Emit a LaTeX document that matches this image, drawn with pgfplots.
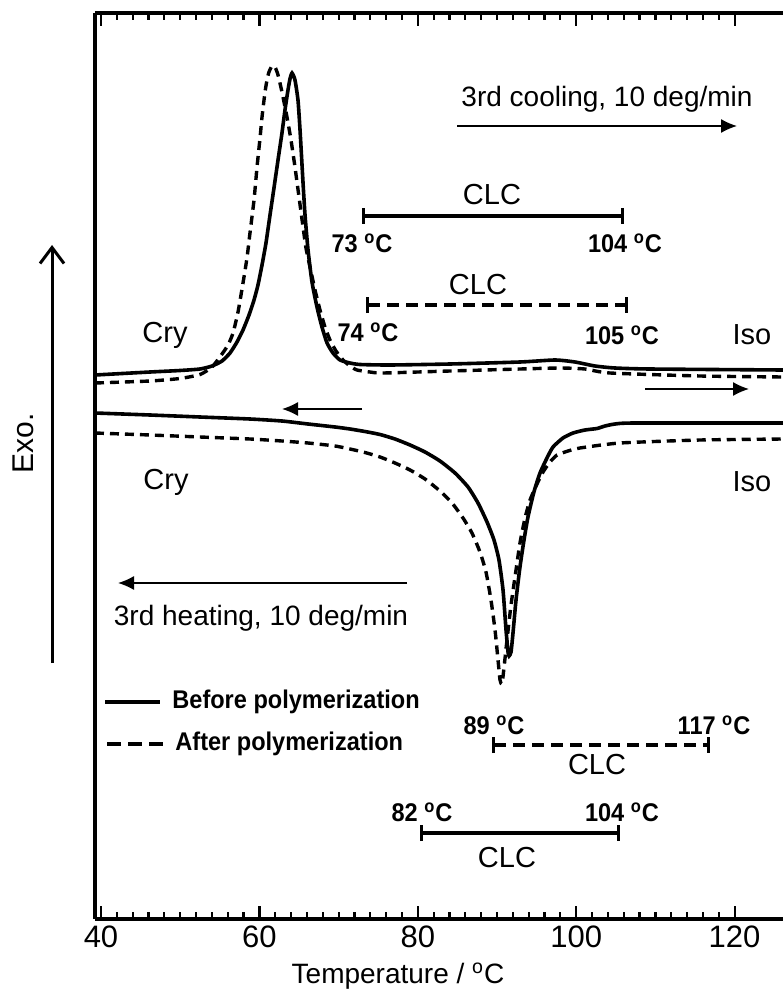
\documentclass[border=0pt]{standalone}
\usepackage{fontspec}
\setmainfont{Liberation Sans}
\newfontfamily\nb[FakeStretch=0.92]{Liberation Sans Bold}
\usepackage{pgfplots}
\pgfplotsset{compat=1.18}
\usetikzlibrary{arrows.meta}
\newcommand{\px}[1]{40+(#1-101)/7.92}
\newcommand{\dg}{\textsuperscript{o}C}
\begin{document}
\begin{tikzpicture}
\begin{axis}[
 scale only axis, width=344pt, height=453pt,
 xmin=39.24, xmax=126.11, ymin=13, ymax=919, y dir=reverse,
 axis x line*=box, axis y line*=left,
 axis line style={line width=1.6pt},
 xtick={40,60,80,100,120}, minor x tick num=9, ytick=\empty,
 tick align=inside, xtick pos=both, xticklabel pos=lower,
 major tick length=6.5pt, minor tick length=3.5pt,
 every tick/.style={black, line width=1.1pt},
 every minor tick/.style={black, line width=1.1pt},
 ticklabel style={font=\fontsize{15.5}{15.5}\selectfont},
 /pgf/number format/assume math mode=true,
 clip=false,
]
% cooling, before polymerization
\addplot[black, line width=1.8pt, smooth, tension=0.35] coordinates {
(39.24,375) (46.19,372) (49.97,370.5) (52.50,369) (54.02,366) (55.28,361) (56.29,353)
(57.17,342) (57.93,330) (58.69,315) (59.32,300) (59.82,285) (60.33,265) (60.83,243)
(61.34,215) (61.84,188) (62.35,160) (62.85,133) (63.23,110) (63.61,90) (63.86,79)
(64.12,73) (64.49,80) (64.87,100) (65.13,130) (65.51,183) (65.76,215) (66.14,250)
(66.64,282) (67.27,307) (67.90,327) (68.54,343) (69.29,353) (70.18,360) (71.44,363)
(72.70,364.5) (76.49,365) (84.07,364) (92.90,362) (97.32,360) (99.85,362)
(102.37,366) (104.90,368) (109.32,369) (126.11,370)};
% cooling, after polymerization
\addplot[black, line width=1.7pt, dash pattern=on 4.5pt off 3pt, smooth, tension=0.35] coordinates {
(39.24,383) (46.19,381) (49.97,378.5) (52.50,374.5) (54.02,367) (55.28,354) (56.04,345)
(56.67,333) (57.30,312) (57.93,283) (58.43,258) (58.81,233) (59.32,200) (59.70,167)
(60.08,138) (60.33,117) (60.71,92) (60.96,80) (61.21,72) (61.59,66) (61.97,67)
(62.35,75) (62.85,92) (63.48,117) (63.99,140) (64.49,167) (65.00,197) (65.51,227)
(65.88,248) (66.39,267) (67.02,290) (67.65,310) (68.28,327) (68.91,340) (69.67,351)
(70.56,360) (71.44,366) (72.32,370) (73.96,372) (75.61,373) (84.07,371)
(92.90,369) (97.95,368) (101.11,369) (104.27,373) (115.63,376) (126.11,377)};
% heating, before polymerization
\addplot[black, line width=1.8pt, smooth, tension=0.35] coordinates {
(39.24,413) (46.19,415) (52.50,417) (58.81,419) (62.85,421) (66.14,424) (69.55,427)
(71.44,429) (73.33,431.5) (75.23,434.5) (77.12,439) (79.02,445) (80.91,452)
(82.80,461) (84.70,473) (86.34,487) (87.60,503) (88.74,522) (89.62,540) (90.25,560)
(90.76,590) (91.14,630) (91.39,652) (91.52,656) (91.77,652) (92.02,633) (92.40,600)
(92.90,567) (93.41,540) (93.91,517) (94.66,492) (95.43,473) (96.31,458) (97.07,447)
(98.33,438) (99.60,433) (101.11,430) (102.63,428.5) (103.64,426) (104.90,424)
(107.42,423) (126.11,423)};
% heating, after polymerization
\addplot[black, line width=1.7pt, dash pattern=on 4.5pt off 3pt, smooth, tension=0.35] coordinates {
(39.24,433) (46.19,435) (52.50,437) (58.81,439) (62.85,441) (66.14,443) (69.55,446)
(71.44,449) (73.33,452.5) (75.23,457) (77.12,463) (79.02,470) (80.91,479) (82.80,491)
(84.32,503) (85.71,518) (86.84,533) (87.85,552) (88.61,572) (89.24,600) (89.75,630)
(90.13,660) (90.38,680) (90.63,684) (90.88,668) (91.26,640) (91.77,605) (92.40,570)
(92.90,543) (93.54,518) (94.17,500) (95.05,484) (95.81,472) (96.69,462) (97.58,455)
(98.97,451) (100.48,448) (105.53,443) (115.63,440) (126.11,439)};

% annotations
\def\fa{\fontsize{14}{14}\selectfont}
\def\fb{\fontsize{14.5}{14.5}\selectfont}
\def\fc{\nb\fontsize{12.8}{12.8}\selectfont}
\tikzset{dsh/.style={dash pattern=on 6pt off 3.5pt},
 ar/.style={line width=0.7pt,-{Latex[length=8pt,width=7pt]}},
 clc/.style={line width=1.6pt,{Bar[width=8pt]}-{Bar[width=8pt]}}}
\node[font=\fa] at (axis cs:{\px{607}},99) {3rd cooling, 10 deg/min};
\draw[ar] (axis cs:{\px{457}},126) -- (axis cs:{\px{737}},126);
\draw[clc] (axis cs:{\px{362}},216) -- (axis cs:{\px{624}},216);
\node[font=\fb] at (axis cs:{\px{492}},195) {CLC};
\node[font=\fc] at (axis cs:{\px{362}},243) {73 \dg};
\node[font=\fc] at (axis cs:{\px{625}},243) {104 \dg};
\draw[clc,dsh] (axis cs:{\px{366}},305) -- (axis cs:{\px{628}},305);
\node[font=\fb] at (axis cs:{\px{478}},285) {CLC};
\node[font=\fc] at (axis cs:{\px{368}},332) {74 \dg};
\node[font=\fc] at (axis cs:{\px{622}},335) {105 \dg};
\node[font=\fb] at (axis cs:{\px{165}},335) {Cry};
\node[font=\fb] at (axis cs:{\px{752}},335) {Iso};
\draw[ar] (axis cs:{\px{645}},389) -- (axis cs:{\px{749}},389);
\draw[ar] (axis cs:{\px{362}},409) -- (axis cs:{\px{282}},409);
\node[font=\fb] at (axis cs:{\px{166}},482) {Cry};
\node[font=\fb] at (axis cs:{\px{752}},482) {Iso};
\draw[ar] (axis cs:{\px{407}},583) -- (axis cs:{\px{118}},583);
\node[font=\fa] at (axis cs:{\px{261}},618) {3rd heating, 10 deg/min};
% legend
\draw[line width=1.8pt] (axis cs:{\px{105}},702) -- (axis cs:{\px{160}},702);
\node[font=\fc,anchor=west,inner sep=0pt] at (axis cs:{\px{172}},702) {Before polymerization};
\draw[line width=1.8pt,dash pattern=on 7pt off 3.5pt] (axis cs:{\px{107}},744) -- (axis cs:{\px{166}},744);
\node[font=\fc,anchor=west,inner sep=0pt] at (axis cs:{\px{175}},744) {After polymerization};
% lower CLC bars
\draw[clc,dsh] (axis cs:{\px{492}},745) -- (axis cs:{\px{710}},745);
\node[font=\fc] at (axis cs:{\px{494}},725) {89 \dg};
\node[font=\fc] at (axis cs:{\px{714}},725) {117 \dg};
\node[font=\fb] at (axis cs:{\px{597}},765) {CLC};
\draw[clc] (axis cs:{\px{420}},833) -- (axis cs:{\px{620}},833);
\node[font=\fc] at (axis cs:{\px{422}},812) {82 \dg};
\node[font=\fc] at (axis cs:{\px{622}},812) {104 \dg};
\node[font=\fb] at (axis cs:{\px{507}},858) {CLC};
% Exo arrow and labels
\draw[line width=1.5pt,-{Straight Barb[length=8pt,width=12pt]}] (axis cs:{\px{52}},663) -- (axis cs:{\px{52}},245);
\node[font=\fontsize{15}{15}\selectfont,rotate=90] at (axis cs:{\px{23}},443) {Exo.};
\node[font=\fontsize{14}{14}\selectfont] at (axis cs:{\px{398}},976) {Temperature / \dg};
\coordinate (BL) at (axis cs:{\px{0}},999);
\coordinate (TR) at (axis cs:{\px{783}},0);
\end{axis}
\pgfresetboundingbox
\path (BL) rectangle (TR);
\end{tikzpicture}
\end{document}
